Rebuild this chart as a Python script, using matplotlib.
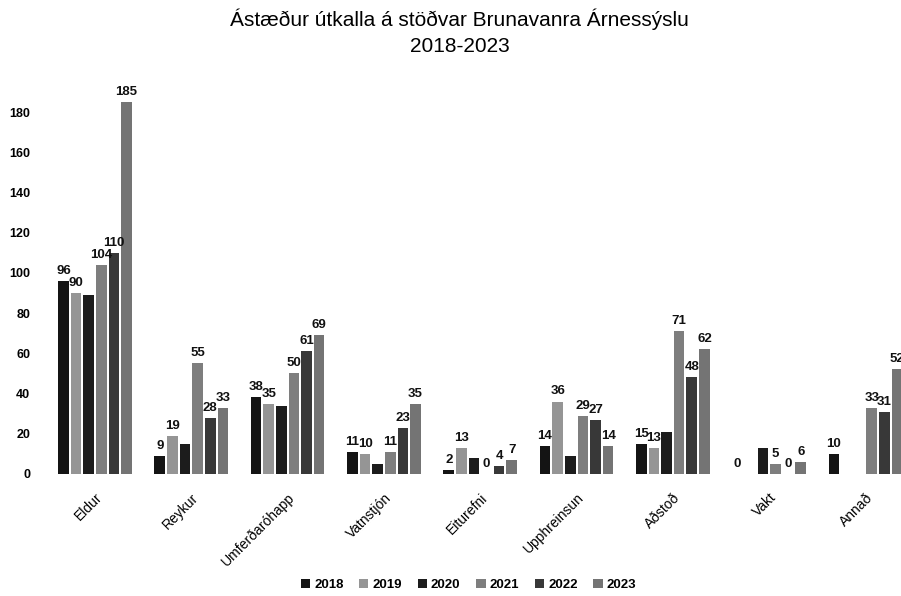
import numpy as np
import matplotlib
matplotlib.use("Agg")
import matplotlib.pyplot as plt

# Gogn lesin af myndinni (None = engin sula)
categories = ["Eldur", "Reykur", "Umferðaróhapp", "Vatnstjón", "Eiturefni",
              "Upphreinsun", "Aðstoð", "Vakt", "Annað"]
years = ["2018", "2019", "2020", "2021", "2022", "2023"]

v2018 = [96, 9, 38, 11, 2, 14, 15, 0, 10]
v2019 = [90, 19, 35, 10, 13, 36, 13, None, None]
v2020 = [89, 15, 34, 5, 8, 9, 21, 13, None]
v2021 = [104, 55, 50, 11, 0, 29, 71, 5, 33]
v2022 = [110, 28, 61, 23, 4, 27, 48, 0, 31]
v2023 = [185, 33, 69, 35, 7, 14, 62, 6, 52]

series = [v2018, v2019, v2020, v2021, v2022, v2023]
colors = ["#141414", "#959595", "#1c1c1c", "#7e7e7e", "#383838", "#747474"]
show_labels = [True, True, False, True, True, True]

plt.rcParams["font.family"] = ["Liberation Sans", "DejaVu Sans"]

fig = plt.figure(figsize=(9.01, 5.96), dpi=100)
ax = fig.add_axes([0.052, 0.205, 0.962, 0.674])

x = np.arange(len(categories))
slot = 0.131
width = 0.11

for i, (vals, col) in enumerate(zip(series, colors)):
    pos = x + (i - 2.5) * slot
    heights = [np.nan if v is None else v for v in vals]
    ax.bar(pos, heights, width=width, color=col, label=years[i])
    if show_labels[i]:
        for px, v in zip(pos, vals):
            if v is None:
                continue
            ax.text(px, v + 2, str(v), ha="center", va="bottom",
                    fontsize=9.5, fontweight="bold", color="#111111")

ax.set_xlim(-0.5, len(categories) - 0.5)
ax.set_ylim(0, 200)
ax.set_yticks(range(0, 181, 20))
ax.tick_params(axis="y", length=0, labelsize=9, pad=12)
for lab in ax.get_yticklabels():
    lab.set_fontweight("bold")
ax.set_xticks(x)
ax.set_xticklabels(categories, rotation=45, ha="right", rotation_mode="anchor",
                   fontsize=10)
ax.tick_params(axis="x", length=0, pad=12)
for s in ax.spines.values():
    s.set_visible(False)

fig.suptitle("Ástæður útkalla á stöðvar Brunavanra Árnessýslu\n2018-2023",
             fontsize=15, y=0.985, x=0.51, linespacing=1.45)

fig.legend(loc="lower center", bbox_to_anchor=(0.52, -0.012), ncol=6, frameon=False,
           handlelength=0.7, handleheight=0.7, handletextpad=0.3,
           columnspacing=1.2, prop={"weight": "bold", "size": 9.5})

fig.savefig("out.png", dpi=100)
